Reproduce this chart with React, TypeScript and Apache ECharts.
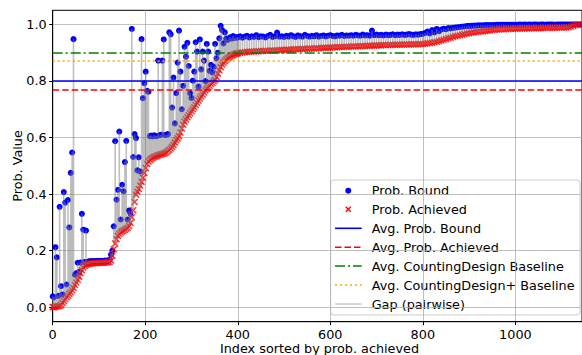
import React, { useEffect, useRef } from "react";
import * as echarts from "echarts";

// sample indices (index sorted by prob. achieved)
const idxA: number[] = Array.from({ length: 134 }, (_, i) => i * 3);
const idxB: number[] = Array.from({ length: 149 }, (_, i) => 400 + i * 5);

const achievedA: number[] = [
  0.000, 0.000, 0.001, 0.002, 0.003, 0.004, 0.008, 0.015, 0.022, 0.028,
  0.035, 0.040, 0.047, 0.053, 0.060, 0.068, 0.078, 0.087, 0.097, 0.108,
  0.120, 0.131, 0.140, 0.146, 0.150, 0.152, 0.153, 0.154, 0.155, 0.155,
  0.156, 0.156, 0.156, 0.157, 0.157, 0.157, 0.157, 0.158, 0.158, 0.158,
  0.159, 0.160, 0.165, 0.182, 0.205, 0.225, 0.240, 0.252, 0.259, 0.264,
  0.268, 0.271, 0.274, 0.277, 0.281, 0.287, 0.298, 0.318, 0.343, 0.372,
  0.398, 0.408, 0.418, 0.430, 0.443, 0.458, 0.475, 0.492, 0.506, 0.515,
  0.521, 0.525, 0.528, 0.531, 0.533, 0.535, 0.537, 0.539, 0.540, 0.542,
  0.543, 0.545, 0.548, 0.552, 0.556, 0.561, 0.567, 0.574, 0.582, 0.590,
  0.597, 0.605, 0.618, 0.632, 0.645, 0.656, 0.664, 0.672, 0.679, 0.686,
  0.693, 0.700, 0.707, 0.715, 0.723, 0.731, 0.738, 0.745, 0.752, 0.759,
  0.766, 0.772, 0.778, 0.783, 0.789, 0.794, 0.799, 0.804, 0.814, 0.826,
  0.838, 0.849, 0.858, 0.865, 0.871, 0.876, 0.880, 0.884, 0.887, 0.890,
  0.892, 0.894, 0.896, 0.897,
];

const boundA: number[] = [
  0.038, 0.035, 0.212, 0.176, 0.040, 0.355, 0.074, 0.045, 0.407, 0.370,
  0.080, 0.379, 0.282, 0.475, 0.547, 0.948, 0.115, 0.120, 0.157, 0.125,
  0.158, 0.330, 0.274, 0.160, 0.271, 0.160, 0.162, 0.162, 0.163, 0.162,
  0.163, 0.163, 0.164, 0.163, 0.164, 0.164, 0.163, 0.164, 0.165, 0.164,
  0.165, 0.168, 0.186, 0.200, 0.286, 0.587, 0.380, 0.415, 0.621, 0.310,
  0.433, 0.410, 0.513, 0.588, 0.310, 0.342, 0.330, 0.984, 0.531, 0.612,
  0.598, 0.484, 0.530, 0.480, 0.948, 0.739, 0.792, 0.833, 0.765, 0.762,
  0.605, 0.607, 0.604, 0.608, 0.606, 0.605, 0.872, 0.608, 0.610, 0.872,
  0.947, 0.609, 0.610, 0.612, 0.972, 0.965, 0.706, 0.812, 0.650, 0.757,
  0.865, 0.978, 0.833, 0.700, 0.783, 0.921, 0.886, 0.935, 0.853, 0.757,
  0.740, 0.801, 0.833, 0.937, 0.904, 0.780, 0.947, 0.841, 0.904, 0.872,
  0.800, 0.931, 0.904, 0.836, 0.857, 0.830, 0.850, 0.931, 0.880, 0.900,
  0.951, 0.995, 0.980, 0.933, 0.972, 0.950, 0.945, 0.951, 0.955, 0.950,
  0.959, 0.952, 0.955, 0.953,
];

const achievedB: number[] = [
  0.899, 0.900, 0.901, 0.902, 0.903, 0.903, 0.904, 0.904, 0.905, 0.905,
  0.906, 0.906, 0.907, 0.907, 0.908, 0.908, 0.908, 0.909, 0.909, 0.910,
  0.910, 0.910, 0.911, 0.911, 0.912, 0.912, 0.913, 0.913, 0.913, 0.914,
  0.914, 0.915, 0.915, 0.915, 0.916, 0.916, 0.917, 0.917, 0.917, 0.918,
  0.918, 0.919, 0.919, 0.919, 0.920, 0.920, 0.921, 0.921, 0.921, 0.922,
  0.922, 0.923, 0.923, 0.923, 0.924, 0.924, 0.924, 0.925, 0.925, 0.925,
  0.926, 0.926, 0.926, 0.927, 0.927, 0.927, 0.927, 0.928, 0.928, 0.928,
  0.928, 0.929, 0.929, 0.929, 0.929, 0.930, 0.930, 0.930, 0.930, 0.931,
  0.931, 0.932, 0.933, 0.934, 0.935, 0.937, 0.939, 0.941, 0.943, 0.946,
  0.948, 0.951, 0.953, 0.956, 0.958, 0.960, 0.962, 0.964, 0.966, 0.968,
  0.969, 0.971, 0.972, 0.973, 0.974, 0.975, 0.976, 0.977, 0.978, 0.979,
  0.980, 0.981, 0.982, 0.982, 0.983, 0.983, 0.984, 0.984, 0.985, 0.985,
  0.985, 0.985, 0.986, 0.986, 0.986, 0.986, 0.986, 0.987, 0.987, 0.987,
  0.987, 0.987, 0.987, 0.988, 0.988, 0.988, 0.988, 0.988, 0.988, 0.989,
  0.989, 0.989, 0.989, 0.990, 0.992, 0.995, 0.998, 0.999, 1.000,
];

const boundB: number[] = [
  0.955, 0.958, 0.953, 0.957, 0.960, 0.954, 0.958, 0.956, 0.962, 0.955,
  0.958, 0.957, 0.954, 0.959, 0.963, 0.956, 0.958, 0.971, 0.957, 0.958,
  0.956, 0.960, 0.957, 0.962, 0.958, 0.956, 0.961, 0.958, 0.957, 0.963,
  0.959, 0.957, 0.960, 0.958, 0.962, 0.957, 0.959, 0.961, 0.958, 0.960,
  0.962, 0.959, 0.958, 0.961, 0.960, 0.963, 0.959, 0.961, 0.960, 0.962,
  0.960, 0.963, 0.961, 0.960, 0.964, 0.961, 0.962, 0.960, 0.978, 0.962,
  0.964, 0.962, 0.963, 0.961, 0.964, 0.962, 0.963, 0.965, 0.962, 0.964,
  0.963, 0.965, 0.963, 0.964, 0.966, 0.964, 0.963, 0.965, 0.964, 0.966,
  0.967, 0.970, 0.975, 0.968, 0.980, 0.972, 0.984, 0.976, 0.982, 0.985,
  0.983, 0.987, 0.986, 0.988, 0.989, 0.990, 0.991, 0.992, 0.993, 0.994,
  0.995, 0.995, 0.996, 0.996, 0.997, 0.997, 0.997, 0.998, 0.998, 0.998,
  0.998, 0.998, 0.999, 0.999, 0.999, 0.999, 0.999, 0.999, 0.999, 0.999,
  0.999, 0.999, 1.000, 0.999, 1.000, 0.999, 1.000, 0.999, 1.000, 1.000,
  0.999, 1.000, 1.000, 0.999, 1.000, 1.000, 1.000, 0.999, 1.000, 1.000,
  1.000, 1.000, 1.000, 1.000, 1.000, 1.000, 1.000, 1.000, 1.000,
];

const avgBound = 0.801;
const avgAchieved = 0.766;
const avgCountingDesign = 0.8966;
const avgCountingDesignPlus = 0.874;

const xTicks = [0, 200, 400, 600, 800, 1000];
const yTicks = [0.0, 0.2, 0.4, 0.6, 0.8, 1.0];

const legendLabels = [
  "Prob. Bound",
  "Prob. Achieved",
  "Avg. Prob. Bound",
  "Avg. Prob. Achieved",
  "Avg. CountingDesign Baseline",
  "Avg. CountingDesign+ Baseline",
  "Gap (pairwise)",
];

const FONT = "DejaVu Sans";
const FS = 12.8;

function buildRows() {
  const rows: number[][] = [];
  const nA = Math.min(idxA.length, achievedA.length, boundA.length);
  for (let i = 0; i < nA; i++) rows.push([idxA[i], achievedA[i], boundA[i]]);
  const nB = Math.min(idxB.length, achievedB.length, boundB.length);
  for (let i = 0; i < nB; i++) rows.push([idxB[i], achievedB[i], boundB[i]]);
  return rows;
}

export default function App() {
  const ref = useRef<HTMLDivElement>(null);

  useEffect(() => {
    if (!ref.current) return;
    const chart = echarts.init(ref.current, undefined, { renderer: "svg" });
    const rows = buildRows();

    const gridLeft = 52.7;
    const gridTop = 10.3;
    const gridWidth = 534;
    const gridHeight = 311.4;

    const legX = 330.7;
    const legY = 180;
    const rowY = [190.7, 209.3, 228.3, 247.3, 266, 285, 304];
    const lx1 = 335;
    const lx2 = 361.7;
    const mx = 348.3;
    const tx = 371.7;

    const legendChildren: any[] = [
      {
        type: "rect",
        shape: { x: legX, y: legY, width: 249.3, height: 135, r: 3 },
        style: { fill: "rgba(255,255,255,0.8)", stroke: "#cccccc", lineWidth: 1 },
      },
      { type: "circle", shape: { cx: mx, cy: rowY[0], r: 3 }, style: { fill: "#0000ff" } },
      {
        type: "line",
        shape: { x1: mx - 2.5, y1: rowY[1] - 2.5, x2: mx + 2.5, y2: rowY[1] + 2.5 },
        style: { stroke: "#ff0000", lineWidth: 1.3 },
      },
      {
        type: "line",
        shape: { x1: mx - 2.5, y1: rowY[1] + 2.5, x2: mx + 2.5, y2: rowY[1] - 2.5 },
        style: { stroke: "#ff0000", lineWidth: 1.3 },
      },
      {
        type: "line",
        shape: { x1: lx1, y1: rowY[2], x2: lx2, y2: rowY[2] },
        style: { stroke: "#0000ff", lineWidth: 1.6 },
      },
      {
        type: "line",
        shape: { x1: lx1, y1: rowY[3], x2: lx2, y2: rowY[3] },
        style: { stroke: "#ff0000", lineWidth: 1.6, lineDash: [6.5, 3] },
      },
      {
        type: "line",
        shape: { x1: lx1, y1: rowY[4], x2: lx2, y2: rowY[4] },
        style: { stroke: "#008000", lineWidth: 1.6, lineDash: [10, 3, 2, 3] },
      },
      {
        type: "line",
        shape: { x1: lx1, y1: rowY[5], x2: lx2, y2: rowY[5] },
        style: { stroke: "#ffa500", lineWidth: 1.6, lineDash: [2, 3] },
      },
      {
        type: "line",
        shape: { x1: lx1, y1: rowY[6], x2: lx2, y2: rowY[6] },
        style: { stroke: "#808080", lineWidth: 1, opacity: 0.6 },
      },
    ];
    legendLabels.forEach((t, i) => {
      legendChildren.push({
        type: "text",
        x: tx,
        y: rowY[i],
        style: {
          text: t,
          fill: "#000",
          font: `${FS}px "${FONT}"`,
          textAlign: "left",
          textVerticalAlign: "middle",
        },
      });
    });

    chart.setOption({
      animation: false,
      backgroundColor: "#ffffff",
      grid: {
        left: gridLeft,
        top: gridTop,
        width: gridWidth,
        height: gridHeight,
        show: true,
        borderColor: "#000000",
        borderWidth: 1,
        backgroundColor: "transparent",
      },
      xAxis: {
        type: "value",
        min: 0,
        max: 1144,
        axisLine: { show: true, onZero: false, lineStyle: { color: "#000", width: 1 } },
        axisTick: { show: true, inside: false, length: 3.5, customValues: xTicks, lineStyle: { color: "#000" } },
        axisLabel: {
          customValues: xTicks,
          color: "#000",
          fontSize: FS,
          fontFamily: FONT,
          margin: 6,
          formatter: (v: number) => String(v),
        },
        splitLine: { show: true, lineStyle: { color: "#b0b0b0", width: 0.8 } },
      },
      yAxis: {
        type: "value",
        min: -0.0515,
        max: 1.05,
        axisLine: { show: true, onZero: false, lineStyle: { color: "#000", width: 1 } },
        axisTick: { show: true, inside: false, length: 3.5, customValues: yTicks, lineStyle: { color: "#000" } },
        axisLabel: {
          customValues: yTicks,
          color: "#000",
          fontSize: FS,
          fontFamily: FONT,
          margin: 6,
          formatter: (v: number) => v.toFixed(1),
        },
        splitLine: { show: true, lineStyle: { color: "#b0b0b0", width: 0.8 } },
      },
      series: [
        {
          name: "Prob. Bound",
          type: "scatter",
          data: rows.map((r) => [r[0], r[2]]),
          symbol: "circle",
          symbolSize: 6,
          itemStyle: { color: "#0000ff", opacity: 1 },
          z: 2,
          silent: true,
        },
        {
          name: "Prob. Achieved",
          type: "scatter",
          data: rows.map((r) => [r[0], r[1]]),
          symbol: "path://M0 0L10 10M10 0L0 10",
          symbolSize: 6,
          itemStyle: { color: "#ff0000", borderColor: "#ff0000", borderWidth: 1.5 },
          z: 3,
          silent: true,
        },
        {
          name: "Gap (pairwise)",
          type: "custom",
          data: rows,
          encode: { x: 0, y: [1, 2] },
          clip: true,
          z: 4,
          silent: true,
          renderItem: (params: any, api: any) => {
            const x = api.value(0);
            const p1 = api.coord([x, api.value(1)]);
            const p2 = api.coord([x, api.value(2)]);
            return {
              type: "line",
              shape: { x1: p1[0], y1: p1[1], x2: p2[0], y2: p2[1] },
              style: { stroke: "#808080", lineWidth: 1.6, opacity: 0.5 },
            };
          },
        },
        {
          name: "avg",
          type: "line",
          data: [],
          z: 5,
          silent: true,
          markLine: {
            silent: true,
            symbol: ["none", "none"],
            label: { show: false },
            animation: false,
            data: [
              { yAxis: avgBound, lineStyle: { color: "#0000ff", width: 1.6, type: "solid" } },
              { yAxis: avgAchieved, lineStyle: { color: "#ff0000", width: 1.6, type: [6.5, 3] } },
              { yAxis: avgCountingDesign, lineStyle: { color: "#008000", width: 1.6, type: [10, 3, 2, 3] } },
              { yAxis: avgCountingDesignPlus, lineStyle: { color: "#ffa500", width: 1.6, type: [2, 3] } },
            ],
          },
        },
      ],
      graphic: [
        { type: "group", z: 100, children: legendChildren },
        {
          type: "text",
          x: 17,
          y: 166,
          rotation: Math.PI / 2,
          z: 100,
          style: {
            text: "Prob. Value",
            fill: "#000",
            font: `${FS}px "${FONT}"`,
            textAlign: "center",
            textVerticalAlign: "middle",
          },
        },
        {
          type: "text",
          x: 319.5,
          y: 348.3,
          z: 100,
          style: {
            text: "Index sorted by prob. achieved",
            fill: "#000",
            font: `${FS}px "${FONT}"`,
            textAlign: "center",
            textVerticalAlign: "middle",
          },
        },
      ],
    });

    return () => chart.dispose();
  }, []);

  return (
    <div
      ref={ref}
      style={{ position: "fixed", left: 0, top: 0, width: 582, height: 355 }}
    />
  );
}
